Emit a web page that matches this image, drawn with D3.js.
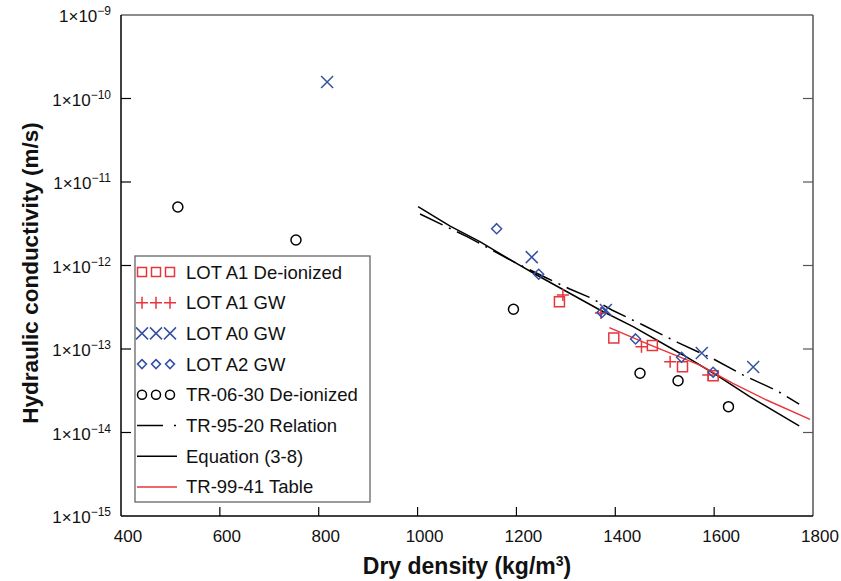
<!DOCTYPE html>
<html>
<head>
<meta charset="utf-8">
<script src="https://cdn.jsdelivr.net/npm/d3@7"></script>
<style>
  html, body { margin: 0; padding: 0; background: #fff; }
  svg { display: block; font-family: "Liberation Sans", Arial, sans-serif; }
</style>
</head>
<body>
<svg id="chart" width="841" height="581"></svg>
<script>
// Measured points: [dry density kg/m3, hydraulic conductivity m/s]
const lotA1DeIonized = [[1287, 3.68e-13], [1397, 1.355e-13], [1475, 1.10e-13], [1536, 6.14e-14], [1598, 4.79e-14]];
const lotA1GW = [[1294, 4.43e-13], [1371, 2.70e-13], [1453, 1.066e-13], [1511, 7.05e-14], [1588, 4.88e-14]];
const lotA0GW = [[817, 1.58e-10], [1231, 1.26e-12], [1381, 2.93e-13], [1575, 8.95e-14], [1679, 6.08e-14]];
const lotA2GW = [[1160, 2.76e-12], [1245, 7.85e-13], [1373, 2.74e-13], [1441, 1.32e-13], [1534, 7.96e-14], [1598, 5.26e-14]];
const tr0630DeIonized = [[515, 5.02e-12], [754, 2.02e-12], [1194, 2.99e-13], [1450, 5.12e-14], [1527, 4.17e-14], [1629, 2.04e-14]];

// Reference relations
const tr9520Relation = [[1005, 4.14e-12], [1102, 2.19e-12], [1199, 1.07e-12], [1261, 7.08e-13], [1308, 5.23e-13], [1351, 4.08e-13],
  [1393, 2.93e-13], [1456, 1.94e-13], [1527, 1.19e-13], [1595, 7.80e-14], [1658, 4.89e-14], [1727, 3.17e-14], [1772, 2.19e-14]];
const equation38 = [[1001, 5.06e-12], [1065, 2.98e-12], [1126, 1.93e-12], [1194, 1.11e-12], [1241, 7.69e-13], [1369, 2.93e-13],
  [1436, 1.85e-13], [1537, 8.48e-14], [1598, 5.16e-14], [1672, 2.69e-14], [1772, 1.20e-14]];
const tr9941Table = [[1388, 1.80e-13], [1470, 1.12e-13], [1571, 6.43e-14], [1638, 3.88e-14], [1706, 2.45e-14], [1794, 1.44e-14]];

// Axis ticks
const xTicks = [400, 600, 800, 1000, 1200, 1400, 1600, 1800];
const yExponents = [-9, -10, -11, -12, -13, -14, -15];

const legendLabels = ["LOT A1 De-ionized", "LOT A1 GW", "LOT A0 GW", "LOT A2 GW",
  "TR-06-30 De-ionized", "TR-95-20 Relation", "Equation (3-8)", "TR-99-41 Table"];

const RED = "#e8353b", BLUE = "#3551a3", BLACK = "#000";

const svg = d3.select("#chart");
const plotLeft = 121, plotRight = 813, plotTop = 15, plotBottom = 516;

const x = d3.scaleLinear().domain([400, 1800]).range([plotLeft, plotRight]);
const y = d3.scaleLog().domain([1e-15, 1e-9]).range([plotBottom, plotTop]);

// Marker path builders
const markers = {
  square: s => `M${-s/2},${-s/2}h${s}v${s}h${-s}Z`,
  plus: s => `M${-s/2},0h${s}M0,${-s/2}v${s}`,
  times: s => `M${-s/2},${-s/2}L${s/2},${s/2}M${-s/2},${s/2}L${s/2},${-s/2}`,
  diamond: s => `M0,${-s/2}L${s/2},0L0,${s/2}L${-s/2},0Z`,
  circle: s => `M${s/2},0A${s/2},${s/2} 0 1,1 ${-s/2},0A${s/2},${s/2} 0 1,1 ${s/2},0Z`
};

// Frame
svg.append("line").attr("x1", plotLeft).attr("x2", plotRight).attr("y1", plotTop).attr("y2", plotTop)
  .attr("stroke", "#666").attr("stroke-width", 1.5);
svg.append("line").attr("x1", plotRight).attr("x2", plotRight).attr("y1", plotTop).attr("y2", plotBottom)
  .attr("stroke", "#555").attr("stroke-width", 1.5);
svg.append("line").attr("x1", plotLeft).attr("x2", plotLeft).attr("y1", plotTop).attr("y2", plotBottom)
  .attr("stroke", BLACK).attr("stroke-width", 1.5);
svg.append("line").attr("x1", plotLeft).attr("x2", plotRight).attr("y1", plotBottom).attr("y2", plotBottom)
  .attr("stroke", BLACK).attr("stroke-width", 1.5);

// X ticks (inward) and labels
svg.append("g").selectAll("line").data(xTicks.slice(1, -1)).join("line")
  .attr("x1", d => x(d)).attr("x2", d => x(d))
  .attr("y1", plotBottom).attr("y2", plotBottom - 9)
  .attr("stroke", BLACK).attr("stroke-width", 1.2);
svg.append("g").selectAll("text").data(xTicks).join("text")
  .attr("x", d => x(d) + 7).attr("y", 542)
  .attr("text-anchor", "middle").attr("font-size", 17).attr("fill", "#111")
  .text(d => d);

// Y ticks (inward on both sides) and labels
const innerExp = yExponents.slice(1, -1);
svg.append("g").selectAll("line").data(innerExp).join("line")
  .attr("x1", plotLeft).attr("x2", plotLeft + 10)
  .attr("y1", d => y(Math.pow(10, d))).attr("y2", d => y(Math.pow(10, d)))
  .attr("stroke", BLACK).attr("stroke-width", 1.2);
svg.append("g").selectAll("line").data(innerExp).join("line")
  .attr("x1", plotRight).attr("x2", plotRight - 10)
  .attr("y1", d => y(Math.pow(10, d))).attr("y2", d => y(Math.pow(10, d)))
  .attr("stroke", "#555").attr("stroke-width", 1.2);

const yLab = svg.append("g").selectAll("text").data(yExponents).join("text")
  .attr("x", 111).attr("y", d => y(Math.pow(10, d)) + 7)
  .attr("text-anchor", "end").attr("font-size", 17).attr("fill", "#111");
yLab.append("tspan").text("1×10");
yLab.append("tspan").attr("dy", -7).attr("font-size", 12).text(d => "−" + Math.abs(d));

// Axis titles
const xTitle = svg.append("text").attr("x", 467).attr("y", 574).attr("text-anchor", "middle")
  .attr("font-size", 23).attr("font-weight", "bold").attr("fill", "#111");
xTitle.append("tspan").text("Dry density (kg/m");
xTitle.append("tspan").attr("dy", -8).attr("font-size", 14).text("3");
xTitle.append("tspan").attr("dy", 8).text(")");

svg.append("text").attr("transform", "translate(38,273) rotate(-90)")
  .attr("text-anchor", "middle").attr("font-size", 22.5).attr("font-weight", "bold").attr("fill", "#111")
  .text("Hydraulic conductivity (m/s)");

// Relations
const line = d3.line().x(d => x(d[0])).y(d => y(d[1]));
const plot = svg.append("g");
plot.append("path").datum(tr9520Relation).attr("d", line).attr("fill", "none")
  .attr("stroke", BLACK).attr("stroke-width", 1.5).attr("stroke-dasharray", "25,7,2,7");
plot.append("path").datum(equation38).attr("d", line).attr("fill", "none")
  .attr("stroke", BLACK).attr("stroke-width", 1.5);
plot.append("path").datum(tr9941Table).attr("d", line).attr("fill", "none")
  .attr("stroke", RED).attr("stroke-width", 1.4);

// Measured series
const series = [
  { data: lotA1DeIonized, shape: "square", size: 10, color: RED },
  { data: lotA1GW, shape: "plus", size: 12, color: RED },
  { data: lotA0GW, shape: "times", size: 12, color: BLUE },
  { data: lotA2GW, shape: "diamond", size: 10, color: BLUE },
  { data: tr0630DeIonized, shape: "circle", size: 10, color: BLACK }
];
series.forEach(s => {
  plot.append("g").selectAll("path").data(s.data).join("path")
    .attr("transform", d => `translate(${x(d[0])},${y(d[1])})`)
    .attr("d", markers[s.shape](s.size))
    .attr("fill", "none").attr("stroke", s.color).attr("stroke-width", 1.5);
});

// Legend
const lg = svg.append("g");
lg.append("rect").attr("x", 135).attr("y", 256).attr("width", 235).attr("height", 246)
  .attr("fill", "#fff").attr("stroke", "#666").attr("stroke-width", 1.3);
const rowY = i => 272 + i * 30.7;
legendLabels.forEach((label, i) => {
  const yy = rowY(i);
  if (i < 5) {
    const s = series[i];
    [142, 156, 170].forEach(cx => {
      lg.append("path").attr("transform", `translate(${cx},${yy})`)
        .attr("d", markers[s.shape](s.shape === "plus" || s.shape === "times" ? 12 : 9))
        .attr("fill", "none").attr("stroke", s.color).attr("stroke-width", 1.5);
    });
  } else if (i === 5) {
    lg.append("line").attr("x1", 137).attr("x2", 163).attr("y1", yy).attr("y2", yy)
      .attr("stroke", BLACK).attr("stroke-width", 1.5);
    lg.append("line").attr("x1", 174).attr("x2", 176).attr("y1", yy).attr("y2", yy)
      .attr("stroke", BLACK).attr("stroke-width", 1.5);
  } else {
    lg.append("line").attr("x1", 137).attr("x2", 177).attr("y1", yy).attr("y2", yy)
      .attr("stroke", i === 7 ? RED : BLACK).attr("stroke-width", 1.5);
  }
  lg.append("text").attr("x", 186).attr("y", yy + 6.5).attr("font-size", 18.5).attr("fill", "#111")
    .text(label);
});
</script>
</body>
</html>
